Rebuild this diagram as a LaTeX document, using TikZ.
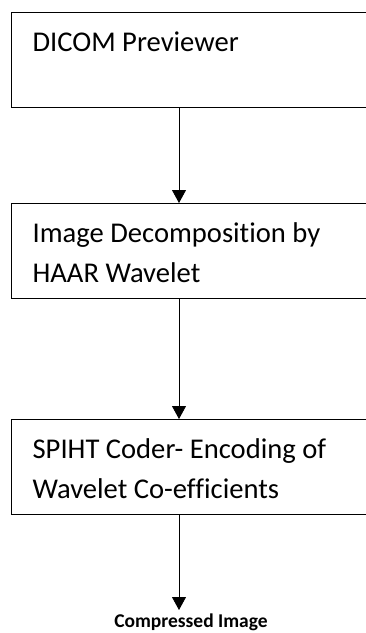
\documentclass[tikz,border=0pt]{standalone}
\usepackage{fontspec}
\setmainfont{Carlito}[Ligatures=NoCommon]
\usetikzlibrary{positioning,arrows.meta}
\tikzset{
  bloque/.style={draw, line width=1.2pt, rectangle, anchor=north west, minimum width=370pt,
    text width=340pt, align=left, inner xsep=21pt, inner ysep=0pt,
    text height=39pt, text depth=56pt, font=\fontsize{28.6}{40}\selectfont,
    execute at begin node={\spaceskip=0.226em\xspaceskip=0.226em\relax}},
  salida/.style={font=\fontsize{19.5}{22}\selectfont\bfseries, inner sep=0pt, anchor=base},
  flecha/.style={draw, line width=0.9pt, -{Triangle[width=14pt,length=13pt]}},
}

\begin{document}
\begin{tikzpicture}[x=1pt, y=1pt]
      \useasboundingbox (0,0) rectangle (365,-633);
      \node[bloque] (dicom) at (11,-12) {DICOM Previewer\\~};
      \node[bloque] (haar) at (11,-203) {Image Decomposition by\\HAAR Wavelet};
      \node[bloque] (spiht) at (11,-419) {SPIHT Coder- Encoding of\\Wavelet Co-efficients};
      \node[salida] (comp) at (191,-627) {Compressed Image};
      \coordinate (punta) at (179,-610);
      \draw[flecha] ([xshift=168pt]dicom.south west) -- ([xshift=168pt]haar.north west);
      \draw[flecha] ([xshift=168pt]haar.south west) -- ([xshift=168pt]spiht.north west);
      \draw[flecha] ([xshift=168pt]spiht.south west) -- (punta);
    \end{tikzpicture}
\end{document}
